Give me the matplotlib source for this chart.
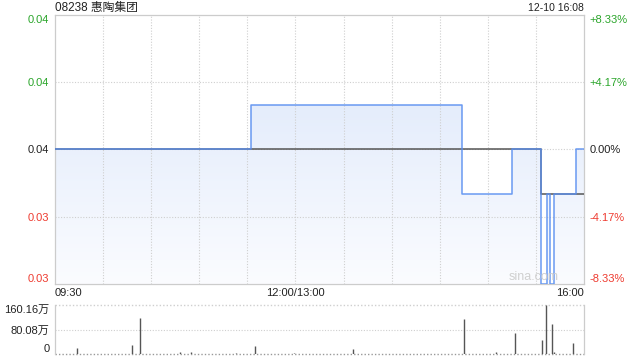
import matplotlib
matplotlib.use("Agg")
import matplotlib.pyplot as plt
import numpy as np
from matplotlib.colors import LinearSegmentedColormap

plt.rcParams['font.family'] = ['Liberation Sans', 'Noto Sans CJK SC', 'DejaVu Sans']

# ---------------- data ----------------
title = "08238 惠陶集团"
stamp = "12-10 16:08"
prev_close = 0.036

price_times = ["09:30", "11:32", "14:44", "15:15", "15:33", "15:37", "15:39", "15:41", "15:55", "16:00"]
price_vals = [0.036, 0.037, 0.035, 0.036, 0.033, 0.035, 0.033, 0.035, 0.036, 0.036]

avg_times = ["09:30", "15:33", "16:00"]
avg_vals = [0.036, 0.035, 0.035]

vol_times = ["09:44", "10:18", "10:23", "10:48", "10:55", "11:23", "11:35", "11:59", "13:36",
             "14:45", "15:05", "15:17", "15:34", "15:36", "15:40", "15:41", "15:53"]
vol_vals = [19, 28, 117, 8, 8, 4, 25, 3, 16, 114, 8, 68, 46, 160.16, 97, 5, 36]  # 万

left_labels = ["0.03", "0.03", "0.04", "0.04", "0.04"]
right_labels = ["-8.33%", "-4.17%", "0.00%", "+4.17%", "+8.33%"]
vol_labels = ["0", "80.08万", "160.16万"]
x_labels = ["09:30", "12:00/13:00", "16:00"]


def tmin(s):
    h, m = map(int, s.split(":"))
    t = h * 60 + m
    if t <= 720:
        return t - 570
    return t - 780 + 150


GREEN = "#2aa52a"
RED = "#ee3b30"
GRID = "#cfcfcf"
BORDER = "#cccccc"

fig = plt.figure(figsize=(6.4, 3.6), dpi=100)
W, H = 640, 360
x0, x1 = 55, 584
ax = fig.add_axes([x0 / W, 1 - 284 / H, (x1 - x0) / W, (284 - 15) / H])
axv = fig.add_axes([x0 / W, 1 - 354 / H, (x1 - x0) / W, (354 - 305) / H])

step = prev_close * 0.0417
levels = [prev_close + k * prev_close * 0.08333 / 2 for k in (-2, -1, 0, 1, 2)]
ymin, ymax = levels[0], levels[-1]

px = np.array([tmin(t) for t in price_times], dtype=float)
py = np.array(price_vals)
ax_ = np.array([tmin(t) for t in avg_times], dtype=float)
ay = np.array(avg_vals)

ax.set_xlim(0, 330)
ax.set_ylim(ymin, ymax)

# gradient fill
poly = ax.fill_between(px, py, ymin, step='post', facecolor='none', edgecolor='none')
cmap = LinearSegmentedColormap.from_list("g", ["#fbfcff", "#d9e5fa"])
grad = np.linspace(0, 1, 256).reshape(-1, 1)
im = ax.imshow(grad, extent=[0, 330, ymin, ymax], origin='lower', aspect='auto', cmap=cmap, zorder=1)
im.set_clip_path(poly.get_paths()[0], transform=ax.transData)

# grid
for k in range(1, 11):
    ax.axvline(k * 30, color=GRID, lw=0.8, ls=(0, (1, 1.5)), zorder=2)
for lv in levels[1:-1]:
    ax.axhline(lv, color=GRID, lw=0.8, ls=(0, (1, 1.5)), zorder=2)

ax.plot(ax_, ay, drawstyle='steps-post', color="#555555", lw=1.1, zorder=3)
ax.plot(px, py, drawstyle='steps-post', color="#5a8ff0", lw=1.1, alpha=0.9, zorder=4)

for s in ax.spines.values():
    s.set_color(BORDER)
    s.set_linewidth(0.9)

ax.set_yticks(levels)
ax.set_yticklabels(left_labels)
ax.tick_params(axis='y', length=0, pad=4, labelsize=8)
lcols = [RED, RED, "#222222", GREEN, GREEN]
for i, lab in enumerate(ax.get_yticklabels()):
    lab.set_color(lcols[i])
    if i == 0:
        lab.set_va('bottom')
    elif i == len(levels) - 1:
        lab.set_va('top')

axr = ax.twinx()
axr.set_ylim(ymin, ymax)
axr.set_yticks(levels)
axr.set_yticklabels(right_labels)
axr.tick_params(axis='y', length=0, pad=4, labelsize=8)
for s in axr.spines.values():
    s.set_visible(False)
for i, lab in enumerate(axr.get_yticklabels()):
    lab.set_color(lcols[i])
    if i == 0:
        lab.set_va('bottom')
    elif i == len(levels) - 1:
        lab.set_va('top')

ax.set_xticks([0, 150, 330])
ax.set_xticklabels(x_labels)
ax.tick_params(axis='x', length=0, pad=3, labelsize=8, colors="#222222")
xl = ax.get_xticklabels()
xl[0].set_ha('left')
xl[2].set_ha('right')

ax.text(0.905, 0.005, "sina.com", transform=ax.transAxes, ha='center', va='bottom',
        fontsize=9, color="#d0d0d0", zorder=5)

# volume
vx = np.array([tmin(t) for t in vol_times], dtype=float)
axv.set_xlim(0, 330)
axv.set_ylim(0, 160.16)
axv.vlines(vx, 0, vol_vals, color="#555555", lw=1.0, zorder=3)
axv.axhline(80.08, color=GRID, lw=0.8, ls=(0, (1, 1.5)), zorder=1)
axv.axhline(160.16, color=GRID, lw=1.0, ls=(0, (1, 1.5)), zorder=1, clip_on=False)
axv.axhline(0, color="#999999", lw=1.0, ls=(0, (1, 1.5)), zorder=2, clip_on=False)
for k in ('top', 'bottom'):
    axv.spines[k].set_visible(False)
for k in ('left', 'right'):
    axv.spines[k].set_color(BORDER)
    axv.spines[k].set_linewidth(0.9)
axv.set_xticks([])
axv.set_yticks([0, 80.08, 160.16])
axv.set_yticklabels(vol_labels)
axv.tick_params(axis='y', length=0, pad=4, labelsize=8, colors="#222222")
vl = axv.get_yticklabels()
vl[0].set_va('bottom')
vl[2].set_va('top')

fig.text(x0 / W, 1 - 8 / H, title, ha='left', va='center', fontsize=8.5, color="#222222")
fig.text(x1 / W, 1 - 8 / H, stamp, ha='right', va='center', fontsize=7.5, color="#222222")

fig.savefig("out.png", dpi=100)
